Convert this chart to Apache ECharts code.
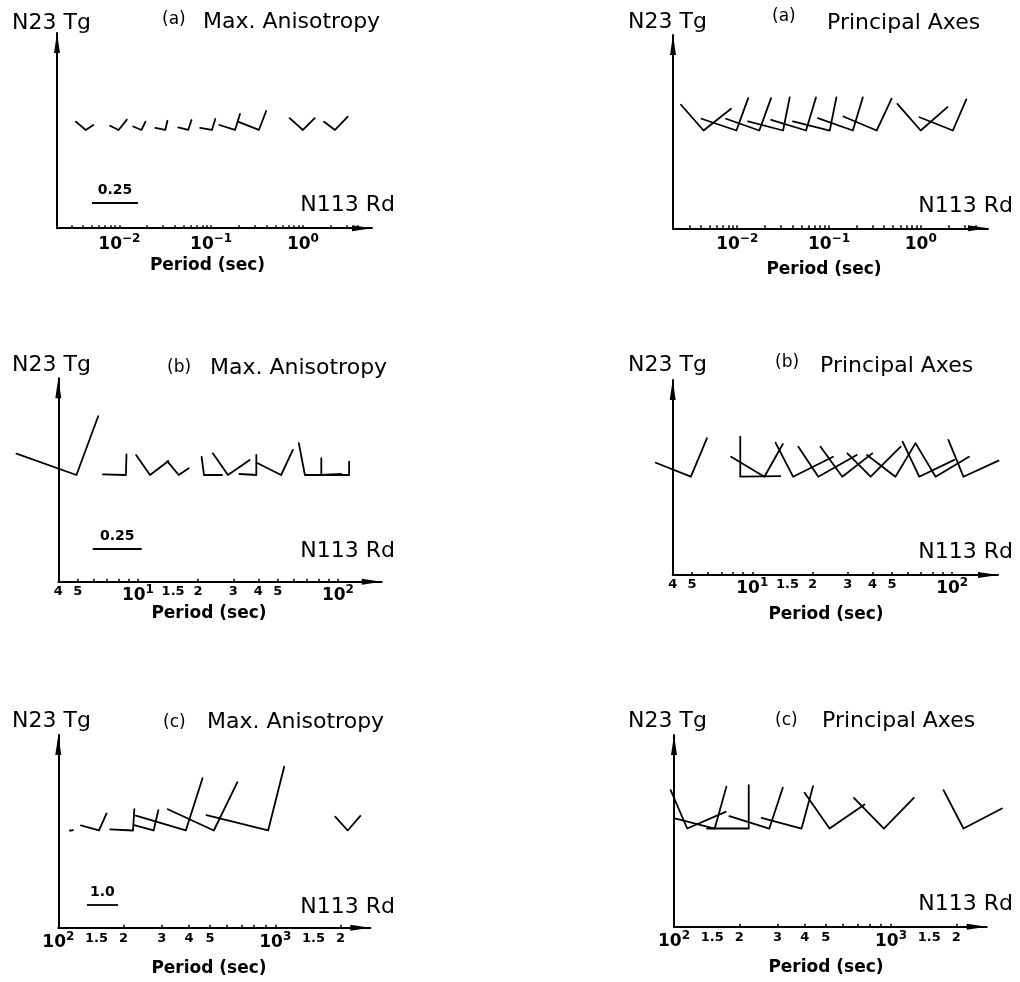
<!DOCTYPE html>
<html>
<head>
<meta charset="utf-8">
<script src="https://cdn.jsdelivr.net/npm/echarts/dist/echarts.min.js"></script>
<style>
  html, body { margin: 0; padding: 0; background: #fff; }
  #chart { width: 1020px; height: 982px; }
</style>
</head>
<body>
<div id="chart"></div>
<script>
// ---- Periods (s) at which each anisotropy glyph is anchored, per band ----
const periodsA = [0.0043, 0.0098, 0.0174, 0.0316, 0.0562, 0.102, 0.182, 0.331, 1.0, 2.24];
const periodsB = [4.93, 8.71, 11.5, 16.0, 21.4, 28.2, 39.1, 52.0, 68.4, 82.6, 113.8];
const periodsC = [115, 154, 221, 275, 387, 521, 927, 2158];

// ---- Glyph arms: [east, north] components, anisotropy units ----
// Band (a)
const maxAnisoA_left  = [[-0.054,0.045],[-0.046,0.023],[-0.045,0.019],[-0.054,0.011],[-0.054,0.014],[-0.064,0.011],[-0.085,0.027],[-0.114,0.045],[-0.072,0.064],[-0.060,0.045]];
const maxAnisoA_right = [[0.041,0.027],[0.045,0.056],[0.022,0.045],[0.012,0.050],[0.018,0.054],[0.018,0.060],[0.027,0.087],[0.040,0.103],[0.064,0.064],[0.069,0.072]];
const principalA_left  = [[-0.123,0.140],[-0.190,0.064],[-0.181,0.064],[-0.190,0.049],[-0.190,0.058],[-0.200,0.049],[-0.190,0.067],[-0.181,0.076],[-0.127,0.145],[-0.181,0.072]];
const principalA_right = [[0.149,0.118],[0.064,0.176],[0.064,0.176],[0.036,0.180],[0.054,0.180],[0.036,0.180],[0.054,0.180],[0.081,0.173],[0.145,0.127],[0.073,0.169]];
// Band (b)
const maxAnisoB_left  = [[-0.306,0.109],[-0.117,0.003],[-0.071,0.102],[-0.059,0.071],[-0.012,0.092],[-0.077,0.111],[-0.086,0.005],[-0.119,0.060],[-0.031,0.162],[0.000,0.086],[-0.111,0.000]];
const maxAnisoB_right = [[0.111,0.300],[0.003,0.105],[0.094,0.071],[0.051,0.035],[0.092,0.000],[0.111,0.077],[0.000,0.102],[0.060,0.128],[0.085,0.000],[0.102,0.005],[0.000,0.068]];
const principalB_left  = [[-0.179,0.071],[0.000,0.204],[-0.170,0.102],[-0.089,0.173],[-0.102,0.153],[-0.111,0.153],[-0.119,0.119],[-0.145,0.111],[-0.085,0.179],[-0.102,0.170],[-0.077,0.188]];
const principalB_right = [[0.082,0.196],[0.204,0.003],[0.094,0.167],[0.204,0.102],[0.196,0.111],[0.153,0.119],[0.153,0.153],[0.102,0.170],[0.179,0.086],[0.170,0.102],[0.179,0.082]];
// Band (c)
const maxAnisoC_left  = [[-0.05,0.000],[-0.588,0.161],[-0.735,0.035],[-0.630,0.175],[-1.610,0.476],[-1.484,0.686],[-1.988,0.497],[-0.406,0.448]];
const maxAnisoC_right = [[0.05,0.014],[0.245,0.553],[0.042,0.686],[0.154,0.658],[0.539,1.687],[0.756,1.554],[0.518,2.058],[0.406,0.469]];
const principalC_left  = [[-0.532,1.239],[-1.288,0.329],[-1.344,0.000],[-1.288,0.399],[-1.288,0.343],[-0.805,1.155],[-0.966,0.987],[-0.644,1.239]];
const principalC_right = [[1.239,0.539],[0.378,1.351],[0.000,1.400],[0.434,1.316],[0.371,1.365],[1.127,0.777],[0.966,0.987],[1.239,0.644]];

// ---- Reference lengths drawn as scale bars ----
const scaleBarValues = [0.25, 0.25, 1.0];

// ---- Period axis labels ----
const tickValuesA = [0.01, 0.1, 1];
const tickLabelsA = ['10^−2', '10^−1', '10^0'];
const tickValuesB = [4, 5, 10, 15, 20, 30, 40, 50, 100];
const tickLabelsB = ['4', '5', '10^1', '1.5', '2', '3', '4', '5', '10^2'];
const tickValuesC = [100, 150, 200, 300, 400, 500, 1000, 1500, 2000];
const tickLabelsC = ['10^2', '1.5', '2', '3', '4', '5', '10^3', '1.5', '2'];

// ---- Text ----
const bandTags = ['(a)', '(b)', '(c)'];
const panelTitles = ['Max. Anisotropy', 'Principal Axes'];
const northName = 'N23 Tg';
const eastName = 'N113 Rd';
const periodName = 'Period (sec)';

const FONT = '"DejaVu Sans", "Liberation Sans", sans-serif';

// Panel geometry: grid box in px, axis extents in log10(period) (same units vertically).
// armScale: log10-period units per anisotropy unit.
const panels = [
  { band: 0, side: 0, left: 57,    top: 33,    width: 315,   height: 195.2, xMin: -2.68,          xMax: 0.753, yMin: -1.071, yMax: 1.057, armScale: 2.005,
    text: { north: [12, 23],  tag: [162, 20],  title: [203, 22],  east: [395, 205],   period: [207.5, 266] } },
  { band: 0, side: 1, left: 673,   top: 35,    width: 315,   height: 193.3, xMin: -2.70,          xMax: 0.733, yMin: -1.066, yMax: 1.041, armScale: 2.005,
    text: { north: [628, 22], tag: [772, 17],  title: [827, 23],  east: [1013, 206.5], period: [824, 269.5] } },
  { band: 1, side: 0, left: 58.3,  top: 378.3, width: 323.4, height: 203.4, xMin: Math.log10(4),  xMax: 2.219, yMin: -0.5335, yMax: 0.4835, armScale: 0.98,
    text: { north: [12, 365], tag: [167, 367.5], title: [210, 368], east: [395, 551.5], period: [209, 613.5] } },
  { band: 1, side: 1, left: 672.7, top: 380,   width: 325.3, height: 195,   xMin: Math.log10(4),  xMax: 2.229, yMin: -0.4915, yMax: 0.4835, armScale: 0.98,
    text: { north: [628, 365], tag: [775, 363], title: [820, 366.7], east: [1013, 552.5], period: [826, 614.5] } },
  { band: 2, side: 0, left: 58.3,  top: 735,   width: 312,   height: 192.7, xMin: 2.0,            xMax: 3.438, yMin: -0.448, yMax: 0.440, armScale: 0.1429,
    text: { north: [12, 721.5], tag: [163, 722.5], title: [207, 722], east: [395, 907.5], period: [209, 968.5] } },
  { band: 2, side: 1, left: 674,   top: 735,   width: 312.7, height: 191.7, xMin: 2.0,            xMax: 3.441, yMin: -0.4525, yMax: 0.431, armScale: 0.1429,
    text: { north: [628, 721.5], tag: [775, 721], title: [822, 721], east: [1013, 904], period: [826, 968] } }
];

// Where the scale bar starts (axis units) on the left panel of each band
const scaleBarAnchor = [[-2.299, -0.796], [0.774, -0.37], [2.132, -0.343]];

const bandPeriods = [periodsA, periodsB, periodsC];
const bandArms = [
  [[maxAnisoA_left, maxAnisoA_right], [principalA_left, principalA_right]],
  [[maxAnisoB_left, maxAnisoB_right], [principalB_left, principalB_right]],
  [[maxAnisoC_left, maxAnisoC_right], [principalC_left, principalC_right]]
];
const bandTicks = [[tickValuesA, tickLabelsA], [tickValuesB, tickLabelsB], [tickValuesC, tickLabelsC]];
const labelMargin = [5, 2, 3];

function minorTicks(xMin, xMax) {
  const out = [];
  for (let n = Math.floor(xMin) - 1; n <= Math.ceil(xMax); n++) {
    for (let k = 1; k <= 9; k++) {
      const v = Math.log10(k) + n;
      if (v >= xMin - 1e-9 && v <= xMax - 0.08) out.push(v);
    }
  }
  return out;
}

function richLabel(txt) {
  const parts = txt.split('^');
  if (parts.length === 2) return '{b|' + parts[0] + '}{s|' + parts[1] + '}';
  return '{m|' + txt + '}';
}

// Each glyph: left arm end -> vertex at the period -> right arm end
function glyphs(periods, leftArm, rightArm, k) {
  return periods.map((p, i) => {
    const x = Math.log10(p);
    return {
      coords: [
        [x + leftArm[i][0] * k, leftArm[i][1] * k],
        [x, 0],
        [x + rightArm[i][0] * k, rightArm[i][1] * k]
      ]
    };
  });
}

// Slim filled arrowhead; shifted back so its tip sits on the axis end
const ARROW = 'path://M0,0 L3,20 L-3,20 Z';
const ARROW_LEN = 20;
const grid = [], xAxis = [], yAxis = [], series = [], graphic = [];

panels.forEach((P, i) => {
  grid.push({ left: P.left, top: P.top, width: P.width, height: P.height, containLabel: false, outerBoundsMode: 'none' });

  const [tv, tl] = bandTicks[P.band];
  const logs = tv.map(v => Math.log10(v));
  const axisLine = { show: true, onZero: false, lineStyle: { color: '#000', width: 2 },
    symbol: ['none', ARROW], symbolSize: [6, ARROW_LEN], symbolOffset: [0, -ARROW_LEN / 2] };
  xAxis.push({
    type: 'value', gridIndex: i, min: P.xMin, max: P.xMax,
    axisLine: axisLine,
    axisTick: { show: true, inside: true, length: 3, customValues: minorTicks(P.xMin, P.xMax),
      lineStyle: { color: '#000', width: 1.5 } },
    axisLabel: {
      show: true, margin: labelMargin[P.band], color: '#000', fontSize: 14,
      customValues: logs,
      formatter: v => {
        const j = logs.findIndex(t => Math.abs(t - v) < 1e-6);
        return j < 0 ? '' : richLabel(tl[j]);
      },
      rich: {
        b: { fontFamily: FONT, fontWeight: 'bold', fontSize: 17, lineHeight: 20, verticalAlign: 'bottom', color: '#000' },
        s: { fontFamily: FONT, fontWeight: 'bold', fontSize: 12, lineHeight: 20, verticalAlign: 'top', color: '#000' },
        m: { fontFamily: FONT, fontWeight: 'bold', fontSize: 13, lineHeight: 15, color: '#000' }
      }
    },
    splitLine: { show: false }
  });
  yAxis.push({
    type: 'value', gridIndex: i, min: P.yMin, max: P.yMax, position: 'left',
    axisLine: axisLine,
    axisTick: { show: false }, axisLabel: { show: false }, splitLine: { show: false }
  });

  const [leftArm, rightArm] = bandArms[P.band][P.side];
  series.push({
    type: 'lines', coordinateSystem: 'cartesian2d', xAxisIndex: i, yAxisIndex: i,
    polyline: true, silent: true, clip: false,
    lineStyle: { color: '#000', width: 1.8, opacity: 1, cap: 'round', join: 'round' },
    data: glyphs(bandPeriods[P.band], leftArm, rightArm, P.armScale)
  });

  if (P.side === 0) {
    const v = scaleBarValues[P.band];
    const [sx, sy] = scaleBarAnchor[P.band];
    series.push({
      type: 'lines', coordinateSystem: 'cartesian2d', xAxisIndex: i, yAxisIndex: i,
      polyline: false, silent: true, clip: false,
      symbol: 'none',
      lineStyle: { color: '#000', width: 1.8, opacity: 1 },
      label: { show: true, position: 'insideMiddleTop', distance: 6, formatter: v.toFixed(v < 1 ? 2 : 1),
        fontFamily: FONT, fontWeight: 'bold', fontSize: 14, color: '#000' },
      data: [{ coords: [[sx, sy], [sx + v * P.armScale, sy]] }]
    });
  }

  const T = P.text;
  const txt = (s, pos, font, align) => graphic.push({
    type: 'text', x: pos[0], y: pos[1], silent: true,
    style: { text: s, font: font, fill: '#000', align: align, verticalAlign: 'middle',
      textAlign: align, textVerticalAlign: 'middle' }
  });
  txt(northName, T.north, 'normal 22px ' + FONT, 'left');
  txt(bandTags[P.band], T.tag, 'normal 17px ' + FONT, 'left');
  txt(panelTitles[P.side], T.title, 'normal 22px ' + FONT, 'left');
  txt(eastName, T.east, 'normal 22px ' + FONT, 'right');
  txt(periodName, T.period, 'bold 17px ' + FONT, 'center');
});

const chart = echarts.init(document.getElementById('chart'), null, { renderer: 'canvas' });
chart.setOption({
  animation: false,
  backgroundColor: '#fff',
  grid, xAxis, yAxis, series, graphic
});
</script>
</body>
</html>
